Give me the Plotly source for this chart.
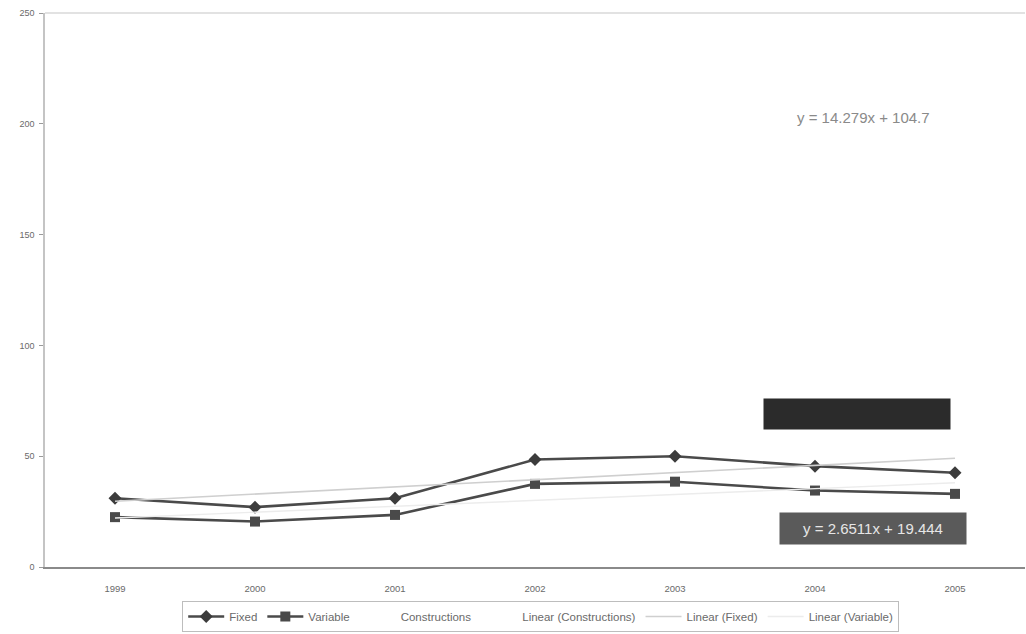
import numpy as np
import plotly.graph_objects as go

# Data
years = ["1999", "2000", "2001", "2002", "2003", "2004", "2005"]
fixed = [31, 27, 31, 48.5, 50, 45.5, 42.5]
variable = [22.5, 20.5, 23.5, 37.5, 38.5, 34.5, 33]
y_ticks = [0, 50, 100, 150, 200, 250]

# Trend-line coefficients (slope, intercept) on x = 1..7
constructions_fit = (14.279, 104.7)
variable_fit = (2.6511, 19.444)
fixed_fit = tuple(np.polyfit(np.arange(1, len(years) + 1), fixed, 1))

xi = np.arange(1, len(years) + 1)


def trend(coef):
    return coef[0] * xi + coef[1]


def eq_text(coef, digits=4):
    return f"y = {coef[0]:.{digits}f}x + {coef[1]:.{digits - 1}f}"


fig = go.Figure()

fig.add_trace(go.Scatter(
    x=years, y=fixed, name="Fixed", mode="lines+markers",
    line=dict(color="#4a4a4a", width=2.6),
    marker=dict(symbol="diamond", size=10, color="#3c3c3c"),
))
fig.add_trace(go.Scatter(
    x=years, y=variable, name="Variable", mode="lines+markers",
    line=dict(color="#4a4a4a", width=2.6),
    marker=dict(symbol="square", size=10, color="#4a4a4a"),
))
fig.add_trace(go.Scatter(
    x=[None], y=[None], name="Constructions", mode="lines",
    line=dict(color="rgba(255,255,255,0)", width=1),
))
fig.add_trace(go.Scatter(
    x=years, y=trend(constructions_fit), name="Linear (Constructions)",
    mode="lines", line=dict(color="rgba(200,200,200,0.0)", width=1),
))
fig.add_trace(go.Scatter(
    x=years, y=trend(fixed_fit), name="Linear (Fixed)", mode="lines",
    line=dict(color="#cfcfcf", width=1.6),
))
fig.add_trace(go.Scatter(
    x=years, y=trend(variable_fit), name="Linear (Variable)", mode="lines",
    line=dict(color="#ececec", width=1.4),
))

# Trend equations
fig.add_annotation(
    x=0.835, y=203, xref="paper", yref="y", xanchor="center", yanchor="middle",
    text="y = 14.279x + 104.7", showarrow=False,
    font=dict(family="Liberation Sans, Arial", size=15, color="#8a8a8a"),
)
fig.add_annotation(
    x=0.829, y=69, xref="paper", yref="y", xanchor="center", yanchor="middle",
    text=eq_text(fixed_fit), showarrow=False,
    font=dict(family="Liberation Sans, Arial", size=14, color="#2b2b2b"),
    bgcolor="#2b2b2b", borderpad=7, width=172,
)
fig.add_annotation(
    x=0.845, y=17.5, xref="paper", yref="y", xanchor="center", yanchor="middle",
    text="y = 2.6511x + 19.444", showarrow=False,
    font=dict(family="Liberation Sans, Arial", size=15, color="#e6e6e6"),
    bgcolor="#5a5a5a", borderpad=7, width=172,
)

fig.update_layout(
    width=1026, height=634,
    margin=dict(l=45, r=1, t=13, b=67),
    paper_bgcolor="white", plot_bgcolor="white",
    font=dict(family="Liberation Sans, Arial", size=9, color="#6a6a6a"),
    showlegend=True,
    legend=dict(
        orientation="h", x=0.527, y=0.052, xref="container", yref="container",
        xanchor="center", yanchor="top",
        bordercolor="#bdbdbd", borderwidth=1,
        font=dict(size=11.5, color="#6a6a6a"),
        itemwidth=36, tracegroupgap=0,
    ),
)
fig.update_xaxes(
    type="category", range=[-0.5, 6.5],
    showline=True, linecolor="#8a8a8a", linewidth=2,
    showgrid=False, ticks="", tickfont=dict(size=9.5, color="#6a6a6a"),
    ticklabelstandoff=12, mirror=False, zeroline=False,
)
fig.update_yaxes(
    range=[0, 250], tickvals=y_ticks, ticktext=[str(v) for v in y_ticks],
    showline=True, linecolor="#c4c4c4", linewidth=1.5,
    showgrid=False, ticks="outside", ticklen=4, tickcolor="#9a9a9a",
    tickfont=dict(size=9, color="#6a6a6a"), ticklabelstandoff=3,
    zeroline=False,
)
# Faint frame at the top of the plot area
fig.add_shape(type="line", xref="paper", yref="paper", x0=0, x1=1, y0=1, y1=1,
              line=dict(color="#e2e2e2", width=2))

fig.write_html("out.html")
